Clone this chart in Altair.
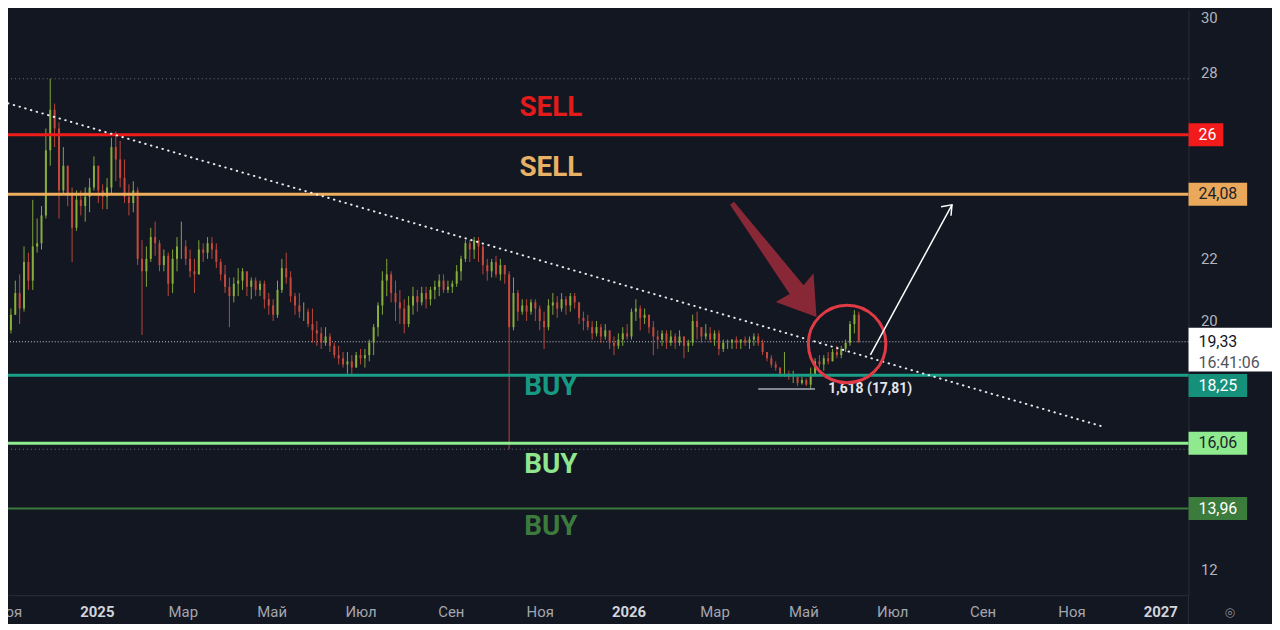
import altair as alt
import pandas as pd

# ---------------- data ----------------
# 3-day candles (open = previous close)
candle_start = "2024-10-28"
first_open = 19.5
closes = [19.6, 19.7, 20.2, 20.9, 20.4, 21.9, 21.3, 22.4, 22.5, 23.4,
          25.5, 26.8, 26.2, 24.2, 25.0, 24.1, 23.0, 23.9, 23.7, 24.0,
          24.3, 25.0, 24.2, 24.0, 24.3, 25.6, 25.2, 24.6, 24.0, 23.8,
          24.2, 22.0, 21.6, 22.0, 22.7, 22.5, 21.8, 22.1, 21.2, 22.0,
          22.4, 22.4, 22.0, 21.6, 21.5, 22.3, 22.2, 22.5, 22.3, 21.9,
          21.5, 21.1, 20.8, 21.2, 21.3, 21.6, 21.1, 21.3, 21.0, 21.2,
          20.7, 20.5, 20.2, 21.0, 21.7, 21.4, 20.8, 20.5, 20.3, 20.3,
          19.9, 19.7, 19.6, 19.3, 19.5, 19.2, 18.9, 18.8, 18.6, 18.7,
          18.5, 18.9, 18.8, 18.9, 19.3, 19.8, 20.5, 21.3, 21.5, 20.9,
          20.6, 20.4, 19.9, 20.5, 20.8, 20.6, 20.9, 20.7, 21.0, 21.1,
          21.3, 21.0, 21.1, 21.2, 21.6, 22.0, 22.5, 22.3, 22.6, 22.4,
          21.8, 21.6, 21.9, 21.5, 21.8, 21.5, 19.8, 20.9, 20.3, 20.5,
          20.3, 20.6, 20.4, 20.0, 19.8, 20.5, 20.6, 20.4, 20.7, 20.5,
          20.8, 20.6, 20.1, 20.0, 19.8, 19.6, 19.8, 19.5, 19.7, 19.3,
          19.2, 19.4, 19.6, 19.5, 20.3, 20.4, 20.1, 20.2, 19.8, 19.5,
          19.4, 19.6, 19.3, 19.5, 19.3, 19.5, 19.2, 19.3, 20.0, 19.8,
          19.5, 19.6, 19.4, 19.6, 19.1, 19.3, 19.3, 19.4, 19.3, 19.4,
          19.3, 19.4, 19.5, 19.3, 19.0, 18.8, 18.6, 18.5, 18.3, 18.3,
          18.2, 18.2, 18.0, 18.1, 17.95, 18.3, 18.7, 18.6, 18.8, 18.7,
          19.0, 18.9, 19.1, 19.3, 19.9, 20.2, 19.33]
highs = [19.9, 19.9, 20.4, 21.3, 21.5, 22.4, 22.2, 23.9, 23.3, 23.7,
         26.2, 27.8, 27.0, 26.4, 25.6, 25.0, 24.3, 24.2, 24.2, 24.3,
         24.6, 25.3, 25.0, 24.4, 24.6, 25.9, 26.1, 25.8, 25.2, 24.4,
         24.5, 24.3, 22.6, 22.4, 23.0, 23.2, 22.6, 22.3, 22.2, 22.3,
         22.7, 23.2, 22.6, 22.3, 22.0, 22.6, 22.5, 22.7, 22.7, 22.5,
         22.0, 21.8, 21.4, 21.4, 21.7, 21.7, 21.5, 21.4, 21.4, 21.3,
         21.3, 20.9, 20.7, 21.3, 22.0, 22.2, 21.6, 20.9, 20.9, 20.6,
         20.4, 20.4, 20.0, 19.8, 19.8, 19.6, 19.3, 19.2, 19.0, 19.0,
         18.9, 19.0, 19.1, 19.1, 19.4, 19.9, 20.6, 21.6, 22.0, 21.6,
         21.3, 21.0, 20.7, 20.8, 21.1, 21.0, 21.1, 21.1, 21.1, 21.3,
         21.5, 21.5, 21.3, 21.3, 21.8, 22.1, 22.6, 22.6, 22.7, 22.7,
         22.5, 22.0, 22.0, 22.1, 22.0, 21.8, 21.6, 21.4, 21.0, 20.7,
         20.7, 20.7, 20.7, 20.5, 20.3, 20.7, 20.9, 20.8, 20.9, 20.8,
         20.9, 20.9, 20.6, 20.3, 20.2, 20.0, 20.0, 19.9, 19.9, 19.6,
         19.5, 19.6, 19.8, 19.9, 20.4, 20.7, 20.5, 20.4, 20.2, 20.0,
         19.7, 19.7, 19.7, 19.7, 19.6, 19.7, 19.5, 19.4, 20.2, 20.3,
         19.8, 19.9, 19.8, 19.7, 19.7, 19.4, 19.4, 19.4, 19.5, 19.4,
         19.5, 19.5, 19.6, 19.6, 19.4, 19.0, 18.9, 18.7, 18.5, 19.0,
         18.4, 18.4, 18.2, 18.2, 18.15, 18.5, 18.8, 18.9, 18.9, 19.0,
         19.1, 19.2, 19.2, 19.4, 20.0, 20.35, 20.3]
lows = [19.4, 19.4, 19.6, 20.2, 19.9, 20.3, 21.0, 21.0, 22.2, 22.3,
        23.3, 25.0, 25.6, 23.3, 24.1, 23.7, 21.9, 22.9, 23.4, 23.2,
        23.5, 24.2, 23.8, 23.6, 23.6, 24.1, 24.5, 24.3, 23.8, 23.4,
        23.5, 21.8, 19.55, 21.1, 21.9, 22.1, 21.6, 21.6, 20.8, 20.9,
        21.6, 22.0, 21.8, 21.4, 20.9, 21.5, 21.9, 22.0, 22.0, 21.7,
        21.3, 20.9, 19.8, 20.6, 20.8, 21.0, 20.8, 20.7, 20.8, 20.8,
        20.4, 20.2, 20.0, 20.1, 20.9, 21.2, 20.6, 20.2, 20.1, 20.0,
        19.8, 19.3, 19.2, 19.1, 19.2, 19.0, 18.8, 18.6, 18.5, 18.3,
        18.3, 18.5, 18.6, 18.5, 18.7, 18.9, 19.5, 20.2, 20.8, 20.6,
        20.0, 19.9, 19.6, 19.8, 20.2, 20.3, 20.5, 20.4, 20.5, 20.7,
        20.8, 20.9, 20.9, 20.9, 21.1, 21.3, 21.9, 21.9, 22.0, 21.9,
        21.5, 21.3, 21.4, 21.4, 21.3, 21.2, 15.87, 19.7, 20.0, 20.2,
        20.0, 20.2, 20.0, 19.7, 19.1, 19.7, 20.2, 20.1, 20.3, 20.2,
        20.3, 20.4, 19.9, 19.7, 19.7, 19.4, 19.5, 19.3, 19.4, 19.1,
        18.9, 19.1, 19.2, 19.4, 19.4, 20.0, 19.7, 19.9, 19.6, 18.9,
        19.1, 19.2, 19.1, 19.2, 19.1, 19.2, 18.8, 19.0, 19.2, 19.4,
        19.3, 19.4, 19.3, 19.2, 18.9, 19.0, 19.1, 19.1, 19.1, 19.1,
        19.2, 19.1, 19.2, 19.2, 18.9, 18.7, 18.5, 18.4, 18.2, 18.2,
        18.1, 18.0, 17.9, 17.95, 17.9, 17.8, 18.3, 18.5, 18.4, 18.6,
        18.7, 18.8, 18.8, 19.0, 19.2, 19.6, 19.3]

levels = [26.0, 24.08, 18.25, 16.06, 13.96]
level_text = ["26", "24,08", "18,25", "16,06", "13,96"]
# where each level's price tag sits on the axis (18,25 is pushed down by the last-price tag)
level_tag_at = [26.0, 24.08, 17.92, 16.06, 13.96]
level_colors = ["#f01c1c", "#eeae5e", "#1a9e88", "#90ec90", "#3b7b3c"]
level_widths = [3, 3, 3, 3, 2]
box_fill = ["#f21a1a", "#e9a85a", "#15917b", "#8fe98f", "#3b7b3b"]
box_text_color = ["#ffffff", "#1c1f2a", "#ffffff", "#1c1f2a", "#ffffff"]

signal_labels = ["SELL", "SELL", "BUY", "BUY", "BUY"]
signal_prices = [26.85, 24.93, 17.86, 15.36, 13.35]
signal_colors = ["#e31b1b", "#e8b266", "#179a83", "#8fe68f", "#3c7b3d"]
signal_date = "2025-11-08T16:00:00"

last_price = 19.33
last_price_text = "19,33"
countdown_text = "16:41:06"
high_marker = 27.8
low_marker = 15.87

trend_dates = ["2024-11-01", "2026-11-21"]
trend_prices = [27.01, 16.62]

fib_dates = ["2026-03-31", "2026-05-09"]
fib_price = 17.81
fib_label = "1,618 (17,81)"
fib_label_date = "2026-05-16"

circle_date = "2026-05-31"
circle_price = 19.26
arrow_dates = ["2026-06-16", "2026-08-11"]
arrow_prices = [18.91, 23.74]
red_arrow_tip_date = "2026-05-10"
red_arrow_tip_price = 20.13

y_ticks = [12, 20, 22, 28, 30]
x_ticks = [(2024, 11), (2025, 1), (2025, 3), (2025, 5), (2025, 7), (2025, 9), (2025, 11),
           (2026, 1), (2026, 3), (2026, 5), (2026, 7), (2026, 9), (2026, 11), (2027, 1)]

# ---------------- tables ----------------
dates = pd.date_range(candle_start, periods=len(closes), freq="3D")
opens = [first_open] + closes[:-1]
candles = pd.DataFrame({"date": dates, "open": opens, "close": closes,
                        "high": highs, "low": lows})
candles["dir"] = ["up" if c >= o else "down" for o, c in zip(opens, closes)]

lv = pd.DataFrame({"price": levels, "tag": level_tag_at, "label": level_text, "color": level_colors,
                   "w": level_widths, "fill": box_fill, "tc": box_text_color})
lv["lo"] = lv["tag"] - 0.37
lv["hi"] = lv["tag"] + 0.37

sig = pd.DataFrame({"date": [pd.Timestamp(signal_date)] * len(signal_labels),
                    "price": signal_prices, "label": signal_labels, "color": signal_colors})
markers = pd.DataFrame({"price": [high_marker, low_marker]})
lastp = pd.DataFrame({"price": [last_price], "label": [last_price_text],
                      "cd": [countdown_text],
                      "lo": [last_price - 0.96], "hi": [last_price + 0.45],
                      "cdp": [last_price - 0.67]})
trend = pd.DataFrame({"date": pd.to_datetime(trend_dates), "price": trend_prices})
fib = pd.DataFrame({"date": pd.to_datetime(fib_dates), "price": [fib_price] * 2})
fibt = pd.DataFrame({"date": [pd.Timestamp(fib_label_date)], "price": [fib_price], "label": [fib_label]})
circ = pd.DataFrame({"date": [pd.Timestamp(circle_date)], "price": [circle_price]})
arrow = pd.DataFrame({"date": pd.to_datetime(arrow_dates), "price": arrow_prices})
tip = arrow.iloc[[1]]
redtip = pd.DataFrame({"date": [pd.Timestamp(red_arrow_tip_date)], "price": [red_arrow_tip_price]})

# ---------------- scales / axes ----------------
FONT = "Roboto"
xscale = alt.Scale(domain=[alt.DateTime(year=2024, month=11, date=1),
                           alt.DateTime(year=2027, month=1, date=20, hours=9)], nice=False)
yscale = alt.Scale(domain=[11.168, 30.016], zero=False, nice=False)

month_names = "['Янв','Фев','Мар','Апр','Май','Июн','Июл','Авг','Сен','Окт','Ноя','Дек']"
xaxis = alt.Axis(
    values=[alt.DateTime(year=y, month=m, date=1) for y, m in x_ticks],
    labelExpr=f"month(datum.value) == 0 ? timeFormat(datum.value, '%Y') : {month_names}[month(datum.value)]",
    labelColor={"condition": {"test": "month(datum.value) == 0", "value": "#d1d4dc"}, "value": "#a3a6af"},
    labelFontWeight={"condition": {"test": "month(datum.value) == 0", "value": "bold"}, "value": "normal"},
    labelFont=FONT, labelFontSize=15, labelPadding=9, labelFlush=False, labelOverlap=False,
    ticks=False, grid=False, domain=True, domainColor="#2a2e39", domainWidth=1, title=None,
)
yaxis = alt.Axis(
    orient="right", values=y_ticks, labelFont=FONT, labelFontSize=15, labelColor="#b2b5be",
    labelPadding=12, labelFlush=False, labelOverlap=False, ticks=False, grid=False,
    domain=True, domainColor="#2a2e39", domainWidth=1, title=None,
    labelBaseline={"condition": {"test": "datum.value >= 30", "value": "top"}, "value": "middle"},
)


def X(field="date"):
    return alt.X(f"{field}:T", scale=xscale, axis=xaxis, title=None)


def Y(field="price"):
    return alt.Y(f"{field}:Q", scale=yscale, axis=yaxis, title=None)


cdir = alt.Color("dir:N", scale=alt.Scale(domain=["up", "down"], range=["#87ae3b", "#c4493c"]), legend=None)

hl = alt.Chart(markers).mark_rule(color="#6f7380", strokeWidth=1, strokeDash=[1, 3]).encode(y=Y())
pl = alt.Chart(lastp).mark_rule(color="#c8cad0", strokeWidth=1, strokeDash=[1, 2]).encode(y=Y())

wick = alt.Chart(candles).mark_rule(strokeWidth=1, clip=True, opacity=0.95).encode(
    x=X(), y=Y("low"), y2="high", color=cdir)
body = alt.Chart(candles).mark_rule(strokeWidth=2.0, clip=True, strokeCap="butt").encode(
    x=X(), y=Y("open"), y2="close", color=cdir)

lines = alt.Chart(lv).mark_rule().encode(
    y=Y(), color=alt.Color("color:N", scale=None), strokeWidth=alt.StrokeWidth("w:Q", scale=None))

trendline = alt.Chart(trend).mark_line(color="#ffffff", strokeWidth=2, strokeDash=[0.5, 5.5],
                                       strokeCap="round", opacity=0.9).encode(x=X(), y=Y())

fibline = alt.Chart(fib).mark_line(color="#a9acb3", strokeWidth=1.5).encode(x=X(), y=Y())
fibtext = alt.Chart(fibt).mark_text(align="left", baseline="middle", font=FONT, fontSize=14,
                                    fontWeight="bold", color="#e3e5ea", dx=3).encode(x=X(), y=Y(), text="label:N")

signals = alt.Chart(sig).mark_text(align="center", baseline="middle", font=FONT, fontSize=28,
                                   fontWeight="bold").encode(
    x=X(), y=Y(), text="label:N", color=alt.Color("color:N", scale=None))

red_arrow = alt.Chart(redtip).mark_point(
    shape="M-87,-113 L-83,-116 L-13,-32 L-3,-44 L0,0 L-41,-15 L-27,-23 Z",
    size=4, filled=True, color="#922a3a", opacity=0.92).encode(x=X(), y=Y())

circle = alt.Chart(circ).mark_point(shape="circle", size=6084, filled=False, color="#e03a46",
                                    strokeWidth=3, opacity=1).encode(x=X(), y=Y())

wline = alt.Chart(arrow).mark_line(color="#ffffff", strokeWidth=1.5).encode(x=X(), y=Y())
whead = alt.Chart(tip).mark_point(shape="M-11,2 L0,0 L-1,11", size=4, filled=False, color="#ffffff",
                                  strokeWidth=1.5, opacity=1).encode(x=X(), y=Y())

PW = 1188
box26 = alt.Chart(lv.iloc[[0]]).mark_rect().encode(
    x=alt.value(PW), x2=alt.value(PW + 35), y=Y("lo"), y2="hi", color=alt.Color("fill:N", scale=None))
boxes = alt.Chart(lv.iloc[1:]).mark_rect().encode(
    x=alt.value(PW), x2=alt.value(PW + 59), y=Y("lo"), y2="hi", color=alt.Color("fill:N", scale=None))
boxtext = alt.Chart(lv).mark_text(align="left", baseline="middle", font=FONT, fontSize=16).encode(
    x=alt.value(PW + 10), y=Y("tag"), text="label:N", color=alt.Color("tc:N", scale=None))

lastbox = alt.Chart(lastp).mark_rect(color="#ffffff").encode(
    x=alt.value(PW), x2=alt.value(PW + 84), y=Y("lo"), y2="hi")
lasttext = alt.Chart(lastp).mark_text(align="left", baseline="middle", font=FONT, fontSize=16,
                                      color="#131722").encode(x=alt.value(PW + 10), y=Y(), text="label:N")
cdtext = alt.Chart(lastp).mark_text(align="left", baseline="middle", font=FONT, fontSize=16,
                                    color="#50535e").encode(x=alt.value(PW + 10), y=Y("cdp"), text="cd:N")

sep = alt.Chart(lastp).mark_rule(color="#2a2e39", strokeWidth=1).encode(
    x=alt.value(PW), y=alt.value(589), y2=alt.value(622))
icon = alt.Chart(lastp).mark_text(text="◎", font="DejaVu Sans", fontSize=12, color="#8a8d96").encode(
    x=alt.value(1230), y=alt.value(606))

chart = alt.layer(
    hl, pl, wick, body, lines, trendline, fibline, fibtext, signals,
    red_arrow, circle, wline, whead,
    box26, boxes, boxtext, lastbox, lasttext, cdtext, sep, icon,
).properties(
    width=PW, height=589,
    autosize=alt.AutoSizeParams(type="none"),
    padding={"left": 0, "top": 0, "right": 84, "bottom": 27},
    background="#131722",
).configure_view(stroke=None)

chart.save("out.html", embed_options={"renderer": "svg", "actions": False})
